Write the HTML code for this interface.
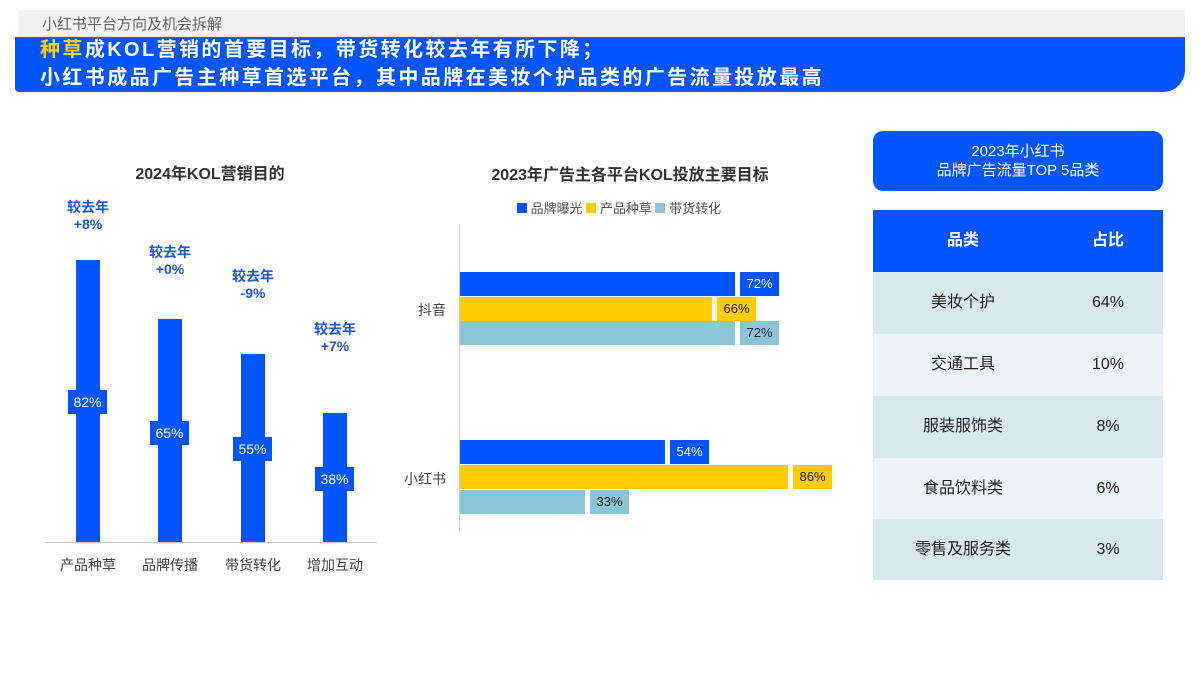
<!DOCTYPE html>
<html><head><meta charset="utf-8"><style>
body{margin:0;width:1200px;height:675px;background:#fff;position:relative;overflow:hidden;font-family:"Liberation Sans","Noto Sans CJK SC",sans-serif}
.a{position:absolute}
.c{position:absolute;text-align:center;white-space:nowrap}
.bar{position:absolute;background:#0055ff}
.lb{position:absolute;background:#0055ff;color:#fff;font-size:14px;text-align:center;line-height:24px}
.ann{position:absolute;color:#2255ee;font-weight:bold;font-size:14px;text-align:center;width:80px;line-height:17px}
.cat{position:absolute;color:#444;font-size:14px;text-align:center;width:80px;top:555px}
.hb{position:absolute;height:24px;left:460px}
.hl{position:absolute;font-size:13px;line-height:24px;text-align:center;width:39px}
.row{position:absolute;left:873px;width:290px;height:62px;font-size:16px;color:#222;line-height:62px}
.row span{position:absolute;text-align:center}
</style></head><body>
<div class="a" style="left:18px;top:10px;width:1167px;height:27px;background:#f2f2f2"></div>
<div class="a" style="left:42px;top:13px;font-size:15px;color:#666">小红书平台方向及机会拆解</div>
<div class="a" style="left:15px;top:37px;width:1170px;height:55px;background:#0055ff;border-bottom-right-radius:22px;border-bottom-left-radius:4px"></div>
<div class="a" style="left:40px;top:36px;font-size:20px;letter-spacing:2.4px;font-weight:bold;color:#fff;line-height:28px;white-space:nowrap"><span style="color:#ffd200">种草</span>成KOL营销的首要目标，带货转化较去年有所下降；<br>小红书成品广告主种草首选平台，其中品牌在美妆个护品类的广告流量投放最高</div>

<div class="c" style="left:110px;width:200px;top:160px;font-size:16px;font-weight:bold;color:#333">2024年KOL营销目的</div>
<div class="a" style="left:45px;top:542px;width:332px;height:1px;background:#ccc"></div>
<div class="bar" style="left:76px;top:260px;width:24px;height:282px"></div>
<div class="bar" style="left:158px;top:319px;width:24px;height:223px"></div>
<div class="bar" style="left:241px;top:354px;width:24px;height:188px"></div>
<div class="bar" style="left:323px;top:413px;width:24px;height:129px"></div>
<div class="lb" style="left:68px;top:390px;width:39px">82%</div>
<div class="lb" style="left:150px;top:421px;width:39px">65%</div>
<div class="lb" style="left:233px;top:437px;width:39px">55%</div>
<div class="lb" style="left:315px;top:467px;width:39px">38%</div>
<div class="ann" style="left:48px;top:199px">较去年<br>+8%</div>
<div class="ann" style="left:130px;top:244px">较去年<br>+0%</div>
<div class="ann" style="left:213px;top:268px">较去年<br>-9%</div>
<div class="ann" style="left:295px;top:321px">较去年<br>+7%</div>
<div class="cat" style="left:48px">产品种草</div>
<div class="cat" style="left:130px">品牌传播</div>
<div class="cat" style="left:213px">带货转化</div>
<div class="cat" style="left:295px">增加互动</div>

<div class="c" style="left:430px;width:400px;top:161px;font-size:16px;font-weight:bold;color:#333">2023年广告主各平台KOL投放主要目标</div>
<div class="a" style="left:517px;top:202px;font-size:13px;color:#555;line-height:14px"><span style="display:inline-block;width:10px;height:10px;background:#0055ff"></span> 品牌曝光 <span style="display:inline-block;width:10px;height:10px;background:#ffcc00"></span> 产品种草 <span style="display:inline-block;width:10px;height:10px;background:#8ac6d8"></span> 带货转化</div>
<div class="a" style="left:459px;top:225px;width:1px;height:306px;background:#ccc"></div>
<div class="a" style="left:418px;top:300px;font-size:14px;color:#444">抖音</div>
<div class="a" style="left:404px;top:469px;font-size:14px;color:#444">小红书</div>
<div class="hb" style="top:272px;width:275px;background:#0055ff"></div>
<div class="hb" style="top:297px;width:252px;background:#ffcc00"></div>
<div class="hb" style="top:321px;width:275px;background:#8ac6d8"></div>
<div class="hb" style="top:440px;width:205px;background:#0055ff"></div>
<div class="hb" style="top:465px;width:328px;background:#ffcc00"></div>
<div class="hb" style="top:490px;width:125px;background:#8ac6d8"></div>
<div class="hl" style="left:740px;top:272px;background:#0055ff;color:#fff">72%</div>
<div class="hl" style="left:717px;top:297px;background:#ffcc00;color:#222">66%</div>
<div class="hl" style="left:740px;top:321px;background:#8ac6d8;color:#222">72%</div>
<div class="hl" style="left:670px;top:440px;background:#0055ff;color:#fff">54%</div>
<div class="hl" style="left:793px;top:465px;background:#ffcc00;color:#222">86%</div>
<div class="hl" style="left:590px;top:490px;background:#8ac6d8;color:#222">33%</div>

<div class="a" style="left:873px;top:131px;width:290px;height:60px;background:#0055ff;border-radius:10px;color:#fff;font-size:15px;text-align:center;line-height:19px;padding-top:11px;box-sizing:border-box">2023年小红书<br>品牌广告流量TOP 5品类</div>
<div class="row" style="top:210px;background:#0055ff;color:#fff;font-weight:bold"><span style="left:0;width:180px">品类</span><span style="left:190px;width:90px">占比</span></div>
<div class="row" style="top:272px;background:#d7e8ef"><span style="left:0;width:180px">美妆个护</span><span style="left:190px;width:90px">64%</span></div>
<div class="row" style="top:334px;background:#ebf4f8"><span style="left:0;width:180px">交通工具</span><span style="left:190px;width:90px">10%</span></div>
<div class="row" style="top:396px;background:#d7e8ef"><span style="left:0;width:180px">服装服饰类</span><span style="left:190px;width:90px">8%</span></div>
<div class="row" style="top:458px;background:#ebf4f8"><span style="left:0;width:180px">食品饮料类</span><span style="left:190px;width:90px">6%</span></div>
<div class="row" style="top:519px;height:61px;line-height:61px;background:#d7e8ef"><span style="left:0;width:180px">零售及服务类</span><span style="left:190px;width:90px">3%</span></div>
</body></html>
